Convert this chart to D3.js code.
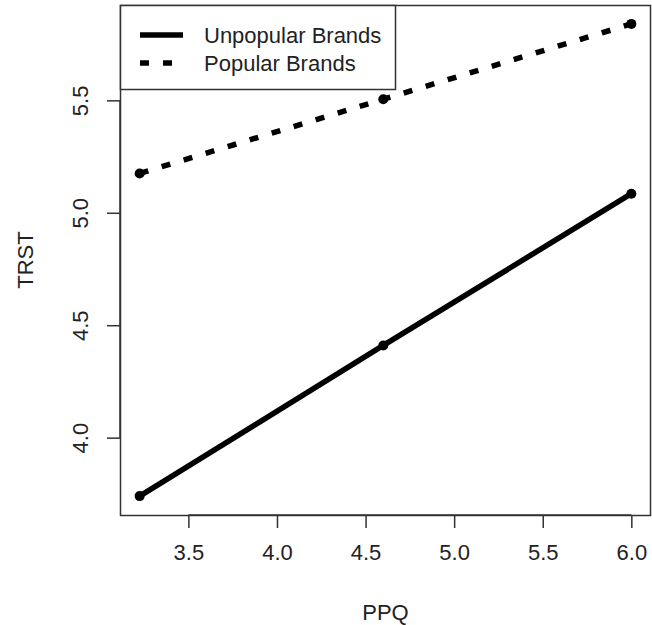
<!DOCTYPE html>
<html>
<head>
<meta charset="utf-8">
<script src="https://cdn.jsdelivr.net/npm/d3@7"></script>
<style>
  body { margin: 0; background: #fff; }
  svg { display: block; font-family: "Liberation Sans", Arial, sans-serif; }
</style>
</head>
<body>
<svg id="chart" width="652" height="625"></svg>
<script>
// data
const ppq = [3.225, 4.6, 6.0];
const unpopular = [3.74, 4.41, 5.085];
const popular = [5.175, 5.505, 5.84];
const xTicks = [3.5, 4.0, 4.5, 5.0, 5.5, 6.0];
const yTicks = [4.0, 4.5, 5.0, 5.5];
const seriesNames = ["Unpopular Brands", "Popular Brands"];

const width = 652, height = 625;
const margin = { top: 5, right: 1, bottom: 110, left: 120 };
const fs = 22;
const ink = "#000";

const svg = d3.select("#chart");

// R style 4% padding
const xr = d3.extent(ppq);
const xpad = (xr[1] - xr[0]) * 0.04;
const allY = unpopular.concat(popular);
const yr = d3.extent(allY);
const ypad = (yr[1] - yr[0]) * 0.04;

const x = d3.scaleLinear()
  .domain([xr[0] - xpad, xr[1] + xpad])
  .range([margin.left, width - margin.right]);
const y = d3.scaleLinear()
  .domain([yr[0] - ypad, yr[1] + ypad])
  .range([height - margin.bottom, margin.top]);

const plotB = height - margin.bottom;

// box
svg.append("rect")
  .attr("x", margin.left + 0.5)
  .attr("y", margin.top + 0.5)
  .attr("width", width - margin.right - margin.left - 1)
  .attr("height", plotB - margin.top)
  .attr("fill", "none")
  .attr("stroke", "#333")
  .attr("stroke-width", 1.5);

// x axis
const xAxis = svg.append("g")
  .attr("transform", "translate(0," + plotB + ")")
  .call(d3.axisBottom(x).tickValues(xTicks).tickFormat(d3.format(".1f"))
    .tickSize(13).tickPadding(16));
xAxis.select(".domain").remove();
xAxis.append("line")
  .attr("x1", x(xTicks[0])).attr("x2", x(xTicks[xTicks.length - 1]))
  .attr("stroke", "#333").attr("stroke-width", 1.5);
xAxis.selectAll(".tick line").attr("stroke", "#333").attr("stroke-width", 1.5);
xAxis.selectAll("text")
  .attr("font-size", fs).attr("font-family", "Liberation Sans, Arial, sans-serif")
  .attr("fill", "#222");

// y axis, labels rotated like R
const yAxis = svg.append("g")
  .attr("transform", "translate(" + margin.left + ",0)")
  .call(d3.axisLeft(y).tickValues(yTicks).tickFormat(d3.format(".1f")).tickSize(13));
yAxis.select(".domain").remove();
yAxis.append("line")
  .attr("y1", y(yTicks[0])).attr("y2", y(yTicks[yTicks.length - 1]))
  .attr("stroke", "#333").attr("stroke-width", 1.5);
yAxis.selectAll(".tick line").attr("stroke", "#333").attr("stroke-width", 1.5);
yAxis.selectAll(".tick text")
  .attr("x", null).attr("dy", null)
  .attr("transform", "translate(-40,0) rotate(-90)")
  .attr("text-anchor", "middle")
  .attr("dominant-baseline", "central")
  .attr("font-size", fs).attr("font-family", "Liberation Sans, Arial, sans-serif")
  .attr("fill", "#222");

// axis titles
svg.append("text")
  .attr("x", x((xr[0] + xr[1]) / 2)).attr("y", 612)
  .attr("text-anchor", "middle").attr("dominant-baseline", "central")
  .attr("font-size", fs).attr("fill", "#222").text("PPQ");
svg.append("text")
  .attr("transform", "translate(25," + ((margin.top + plotB) / 2) + ") rotate(-90)")
  .attr("text-anchor", "middle").attr("dominant-baseline", "central")
  .attr("font-size", fs).attr("fill", "#222").text("TRST");

// lines
const line = d3.line().x((d, i) => x(ppq[i])).y(d => y(d));
const series = [
  { name: seriesNames[0], values: unpopular, dash: null },
  { name: seriesNames[1], values: popular, dash: "9 14" }
];

series.forEach(s => {
  svg.append("path")
    .datum(s.values)
    .attr("d", line)
    .attr("fill", "none")
    .attr("stroke", ink)
    .attr("stroke-width", 5.5)
    .attr("stroke-dasharray", s.dash)
    .attr("stroke-linecap", "butt");
  svg.selectAll(null)
    .data(s.values)
    .join("circle")
    .attr("cx", (d, i) => x(ppq[i]))
    .attr("cy", d => y(d))
    .attr("r", 5)
    .attr("fill", ink);
});

// legend
const lg = svg.append("g");
lg.append("rect")
  .attr("x", margin.left + 0.5).attr("y", margin.top + 0.5)
  .attr("width", 275).attr("height", 84)
  .attr("fill", "#fff").attr("stroke", "#333").attr("stroke-width", 1.5);
series.forEach((s, i) => {
  const ly = 35 + i * 28;
  lg.append("line")
    .attr("x1", 140).attr("x2", 183)
    .attr("y1", ly).attr("y2", ly)
    .attr("stroke", ink).attr("stroke-width", 5.5)
    .attr("stroke-dasharray", s.dash);
  lg.append("text")
    .attr("x", 204).attr("y", ly)
    .attr("dominant-baseline", "central")
    .attr("font-size", fs).attr("fill", "#222")
    .text(s.name);
});
</script>
</body>
</html>
